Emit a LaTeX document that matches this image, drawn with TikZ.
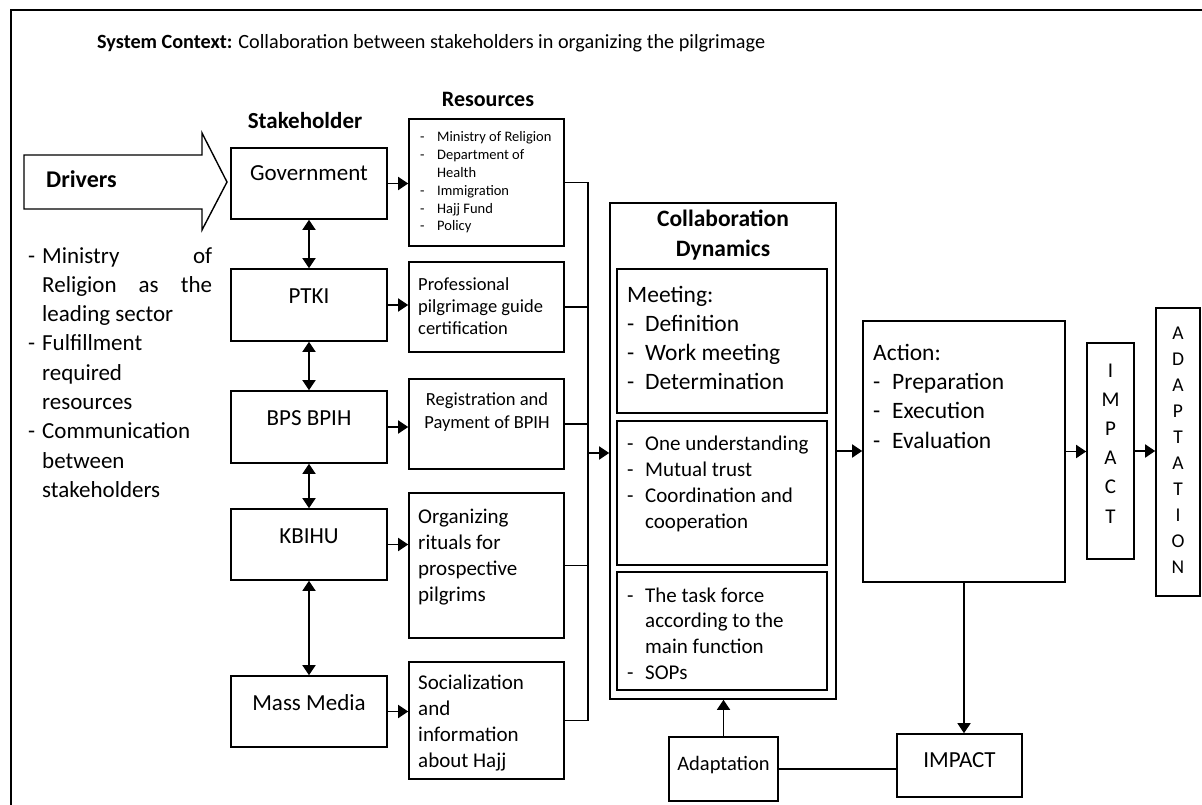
\documentclass[tikz,border=0pt]{standalone}
\usepackage{fontspec}
\setmainfont{Carlito}
\usetikzlibrary{arrows.meta}
\newcommand\fs[2]{\fontsize{#1}{#2}\selectfont}
\newcommand\dd[1]{\makebox[#1][l]{-}}
\newcommand\mkbox[5]{\node[bx, minimum width={(#4)-(#2)}, minimum height={(#5)-(#3)}] (#1) at ({((#2)+(#4))/2},{((#3)+(#5))/2}) {};}
\begin{document}
\begin{tikzpicture}[x=1pt,y=-1pt,
  bx/.style={draw, line width=1.6pt, inner sep=0pt, rectangle},
  txt/.style={inner sep=0pt, anchor=base west, align=flush left},
  ctxt/.style={inner sep=0pt, anchor=base, align=flush center},
  ln/.style={line width=1.6pt},
  arr/.style={line width=1.6pt, -{Triangle[length=10pt,width=13pt]}},
  darr/.style={line width=1.6pt, {Triangle[length=10pt,width=13pt]}-{Triangle[length=10pt,width=13pt]}}]
\useasboundingbox (0,0) rectangle (1202,805);
% frame
\draw[line width=2.4pt] (11,805) -- (11,10) -- (1202,10);
% title
\node[txt, font=\fs{20.2}{24}] (title) at (97,49) {\textbf{System Context:} Collaboration between stakeholders in organizing the pilgrimage};
% column titles
\node[ctxt, font=\fs{23}{28}\bfseries] (sth) at (305,129) {Stakeholder};
\node[ctxt, font=\fs{22}{28}\bfseries] (res) at (488,107) {Resources};
% drivers arrow
\draw[line width=1.4pt, line join=miter] (24,155) -- (202,155) -- (202,133) -- (227,182) -- (202,230) -- (202,209) -- (24,209) -- cycle;
\node[txt, font=\fs{24}{28}\bfseries] (drv) at (46,188) {Drivers};
\node[txt, text width=184pt, font=\fs{23}{29.3}] (drvlist) at (28,263) {\makebox[184pt][l]{\dd{14pt}Ministry\hfill of}\\
\makebox[184pt][l]{\hspace*{14pt}Religion\hfill as\hfill the}\\
\hspace*{14pt}leading sector\\
\dd{14pt}Fulfillment\\
\hspace*{14pt}required\\
\hspace*{14pt}resources\\
\dd{14pt}Communication\\
\hspace*{14pt}between\\
\hspace*{14pt}stakeholders};
% stakeholder boxes
\mkbox{gov}{231}{148}{387}{219}
\mkbox{ptki}{231}{269}{387}{341}
\mkbox{bps}{231}{391}{387}{463}
\mkbox{kbihu}{231}{509}{387}{580}
\mkbox{mm}{231}{676}{387}{747}
\node[ctxt, font=\fs{23}{28}] (govt) at (309,181) {Government};
\node[ctxt, font=\fs{23}{28}] (ptkit) at (309,303) {PTKI};
\node[ctxt, font=\fs{23}{28}] (bpst) at (309,425) {BPS BPIH};
\node[ctxt, font=\fs{23}{28}] (kbihut) at (309,543) {KBIHU};
\node[ctxt, font=\fs{23}{28}] (mmt) at (309,710) {Mass Media};
\draw[darr] (gov.south) -- (ptki.north);
\draw[darr] (ptki.south) -- (bps.north);
\draw[darr] (bps.south) -- (kbihu.north);
\draw[darr] (kbihu.south) -- (mm.north);
% resource boxes
\mkbox{r1}{409}{119}{564}{246}
\mkbox{r2}{409}{262}{564}{352}
\mkbox{r3}{409}{379}{564}{469}
\mkbox{r4}{409}{493}{564}{638}
\mkbox{r5}{409}{662}{564}{779}
\node[txt, text width=150pt, font=\fs{14.5}{17.8}] (r1t) at (420,142) {\dd{17pt}Ministry of Religion\\
\dd{17pt}Department of\\
\hspace*{17pt}Health\\
\dd{17pt}Immigration\\
\dd{17pt}Hajj Fund\\
\dd{17pt}Policy};
\node[txt, text width=150pt, font=\fs{18.5}{22}] (r2t) at (418,290) {Professional\\pilgrimage guide\\certification};
\node[ctxt, text width=150pt, font=\fs{18.5}{23.7}] (r3t) at (487,405) {Registration and\\Payment of BPIH};
\node[txt, text width=150pt, font=\fs{21}{26}] (r4t) at (418,523) {Organizing\\rituals for\\prospective\\pilgrims};
\node[txt, text width=150pt, font=\fs{21}{26.3}] (r5t) at (418,689) {Socialization\\and\\information\\about Hajj};
\draw[arr] (gov.east) -- (gov.east -| r1.west);
\draw[arr] (ptki.east) -- (ptki.east -| r2.west);
\draw[arr] (bps.east) -- (bps.east -| r3.west);
\draw[arr] (kbihu.east) -- (kbihu.east -| r4.west);
\draw[arr] (mm.east) -- (mm.east -| r5.west);
% bus
\coordinate (bus) at (588,453);
\draw[ln] (r1.east) -| (bus) |- (r5.east);
\draw[ln] (r2.east) -- (r2.east -| bus);
\draw[ln] (r3.east) -- (r3.east -| bus);
\draw[ln] (r4.east) -- (r4.east -| bus);
% collaboration
\mkbox{collab}{610}{203}{836}{699}
\node[ctxt, text width=210pt, font=\fs{23.5}{30}\bfseries] (colt) at (723,226) {Collaboration\\Dynamics};
\mkbox{c1}{617}{269}{827}{413}
\mkbox{c2}{617}{421}{827}{565}
\mkbox{c3}{617}{572}{827}{690}
\node[txt, text width=200pt, font=\fs{23.5}{29.3}] (c1t) at (627,302) {Meeting:\\
\dd{18pt}Definition\\
\dd{18pt}Work meeting\\
\dd{18pt}Determination};
\node[txt, text width=200pt, font=\fs{21}{26}] (c2t) at (627,450) {\dd{18pt}One understanding\\
\dd{18pt}Mutual trust\\
\dd{18pt}Coordination and\\
\hspace*{18pt}cooperation};
\node[txt, text width=200pt, font=\fs{21}{25.7}] (c3t) at (627,602) {\dd{18pt}The task force\\
\hspace*{18pt}according to the\\
\hspace*{18pt}main function\\
\dd{18pt}SOPs};
\draw[arr] (bus) -- (bus -| collab.west);
% action
\mkbox{action}{863}{321}{1065}{582}
\node[txt, text width=190pt, font=\fs{23.5}{29.4}] (actt) at (873,360) {Action:\\
\dd{19pt}Preparation\\
\dd{19pt}Execution\\
\dd{19pt}Evaluation};
\draw[arr] (collab.east) -- (collab.east -| action.west);
% vertical impact & adaptation
\mkbox{impv}{1087}{343}{1134}{559}
\node[ctxt, text width=40pt, font=\fs{21}{29.2}] (impvt) at (1110.5,377) {I\\M\\P\\A\\C\\T};
\mkbox{adv}{1156}{308}{1200}{596}
\node[ctxt, text width=40pt, font=\fs{19.5}{26}] (advt) at (1178,339) {A\\D\\A\\P\\T\\A\\T\\I\\O\\N};
\draw[arr] (action.east) -- (action.east -| impv.west);
\draw[arr] (impv.east) -- (impv.east -| adv.west);
% bottom boxes
\mkbox{imp2}{897}{734}{1022}{797}
\node[ctxt, font=\fs{23}{28}] (imp2t) at (959.5,767) {IMPACT};
\mkbox{ad2}{669}{737}{778}{801}
\node[ctxt, font=\fs{20.5}{25}] (ad2t) at (723.5,770) {Adaptation};
\draw[arr] (action.south) -- (action.south |- imp2.north);
\draw[arr] (ad2.north) -- (ad2.north |- collab.south);
\draw[ln] (ad2.east) -- (ad2.east -| imp2.west);
\end{tikzpicture}
\end{document}
